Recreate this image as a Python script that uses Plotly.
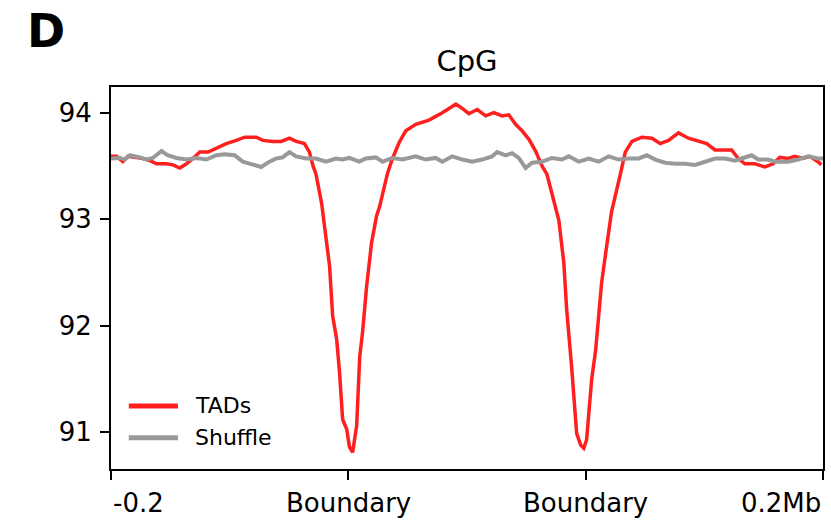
import plotly.graph_objects as go

# Positions along the window: 0 = -0.2 Mb, 100 / 200 = boundaries, 300 = +0.2 Mb
tads_x = [0, 2.4, 5.0, 7.1, 10.8, 13.4, 16.4, 19.2, 23.4, 26.1, 29.0, 31.8, 34.5, 37.4,
          40.9, 44.4, 48.6, 52.8, 56.3, 61.2, 64.0, 68.2, 71.7, 75.2, 78.0, 81.5, 83.6,
          85.0, 86.4, 88.8, 90.9, 92.1, 93.4, 95.1, 96.3, 97.6, 99.3, 100.5, 101.8, 103.5,
          104.8, 106.0, 107.7, 109.8, 111.9, 113.2, 116.5, 118.6, 121.4, 124.2, 128.4,
          134.0, 139.6, 142.4, 145.3, 148.0, 150.8, 154.3, 157.9, 161.3, 164.8, 167.6,
          170.5, 173.2, 176.1, 178.9, 181.6, 183.7, 186.0, 188.7, 190.8, 192.0, 194.1,
          196.2, 197.9, 199.2, 200.4, 202.5, 204.2, 206.7, 208.8, 210.9, 214.6, 216.7,
          219.5, 223.7, 227.9, 231.4, 234.9, 239.1, 243.3, 247.5, 251.0, 254.5, 257.3,
          261.5, 264.3, 267.1, 271.3, 275.5, 279.0, 281.8, 285.3, 288.1, 291.6, 294.4,
          297.9, 299.3]
tads_y = [93.59, 93.59, 93.54, 93.59, 93.58, 93.57, 93.55, 93.52, 93.52, 93.51, 93.48,
          93.52, 93.57, 93.63, 93.63, 93.67, 93.71, 93.74, 93.77, 93.77, 93.74, 93.73,
          93.73, 93.76, 93.73, 93.71, 93.63, 93.51, 93.42, 93.14, 92.78, 92.56, 92.09,
          91.87, 91.56, 91.12, 91.03, 90.86, 90.81, 91.06, 91.71, 91.94, 92.37, 92.78,
          93.03, 93.12, 93.43, 93.57, 93.72, 93.83, 93.89, 93.93, 94.00, 94.04, 94.08,
          94.04, 93.99, 94.03, 93.97, 94.00, 93.97, 93.98, 93.89, 93.83, 93.75, 93.64,
          93.50, 93.42, 93.21, 92.99, 92.59, 92.15, 91.61, 90.99, 90.88, 90.85, 90.93,
          91.49, 91.77, 92.40, 92.74, 93.07, 93.42, 93.63, 93.73, 93.77, 93.76, 93.71,
          93.74, 93.81, 93.76, 93.73, 93.71, 93.65, 93.65, 93.65, 93.57, 93.52, 93.52,
          93.49, 93.52, 93.58, 93.57, 93.59, 93.57, 93.59, 93.54, 93.51]

shuffle_x = [0, 3.8, 5.9, 8.0, 12.2, 15.0, 17.6, 21.3, 23.9, 27.6, 31.8, 36.0, 40.2, 44.4,
             47.9, 52.1, 55.5, 59.7, 63.3, 66.8, 69.6, 72.3, 75.2, 78.0, 82.2, 86.4, 90.6,
             94.8, 97.5, 100.4, 104.6, 107.4, 111.6, 114.4, 118.6, 122.8, 128.4, 132.6,
             136.8, 139.6, 143.8, 148.0, 152.2, 156.4, 160.6, 162.7, 166.3, 169.0, 171.8,
             174.7, 177.4, 181.6, 185.8, 190.0, 192.9, 197.1, 201.3, 205.5, 209.7, 213.9,
             218.1, 222.3, 225.8, 229.3, 233.5, 237.7, 241.9, 246.1, 250.3, 254.5, 258.7,
             262.9, 265.7, 269.9, 272.7, 276.9, 279.7, 285.3, 289.5, 293.7, 297.9, 300]
shuffle_y = [93.57, 93.575, 93.56, 93.60, 93.58, 93.56, 93.575, 93.64, 93.60, 93.575, 93.56,
             93.575, 93.56, 93.60, 93.61, 93.60, 93.54, 93.51, 93.49, 93.54, 93.57, 93.58,
             93.63, 93.59, 93.57, 93.57, 93.54, 93.57, 93.56, 93.575, 93.54, 93.57, 93.58,
             93.54, 93.575, 93.56, 93.59, 93.56, 93.575, 93.54, 93.59, 93.56, 93.54, 93.56,
             93.59, 93.63, 93.60, 93.62, 93.575, 93.48, 93.53, 93.54, 93.575, 93.56, 93.59,
             93.54, 93.57, 93.54, 93.59, 93.56, 93.57, 93.57, 93.60, 93.56, 93.53, 93.52,
             93.52, 93.51, 93.54, 93.57, 93.57, 93.55, 93.57, 93.60, 93.56, 93.56, 93.54,
             93.54, 93.56, 93.59, 93.57, 93.57]

x_tick_vals = [0, 100, 200, 300]
x_tick_text = ["-0.2", "Boundary", "Boundary", "0.2Mb"]
x_tick_anchor = ["left", "center", "center", "right"]
y_tick_vals = [91, 92, 93, 94]

series_names = ["TADs", "Shuffle"]
series_colors = ["#ff1f1f", "#999999"]

FONT = "DejaVu Sans"

fig = go.Figure()
fig.add_trace(go.Scatter(x=tads_x, y=tads_y, mode="lines", name=series_names[0],
                         line=dict(color=series_colors[0], width=3.5), showlegend=False))
fig.add_trace(go.Scatter(x=shuffle_x, y=shuffle_y, mode="lines", name=series_names[1],
                         line=dict(color=series_colors[1], width=4), showlegend=False))

# x tick labels: end labels are aligned inward to the plot edges
for v, t, a in zip(x_tick_vals, x_tick_text, x_tick_anchor):
    fig.add_annotation(x=v, y=0, xref="x", yref="paper", text=t, showarrow=False,
                       xanchor=a, yanchor="top", yshift=-17,
                       font=dict(family=FONT, size=26, color="black"))

# legend drawn in the lower-left corner of the axes
legend_rows = [0.165, 0.082]
for name, color, ly in zip(series_names, series_colors, legend_rows):
    fig.add_shape(type="line", xref="paper", yref="paper", x0=0.025, x1=0.094,
                  y0=ly, y1=ly, line=dict(color=color, width=5))
    fig.add_annotation(x=0.1148, y=ly, xref="paper", yref="paper", text=name,
                       showarrow=False, xanchor="left", yanchor="middle",
                       font=dict(family=FONT, size=22, color="black"))

# panel letter
fig.add_annotation(x=-0.1204, y=1.222, xref="paper", yref="paper", text="<b>D</b>",
                   showarrow=False, xanchor="left", yanchor="top",
                   font=dict(family=FONT, size=46, color="black"))

fig.update_layout(
    width=831, height=522,
    margin=dict(l=111, r=6, t=87, b=53),
    paper_bgcolor="white", plot_bgcolor="white",
    font=dict(family=FONT, size=26, color="black"),
    title=dict(text="CpG", x=0.5, xref="paper", xanchor="center", y=0.883,
               yanchor="middle", font=dict(family=FONT, size=29, color="black")),
    xaxis=dict(range=[0, 300], tickvals=x_tick_vals, ticktext=["", "", "", ""],
               ticks="outside", ticklen=9, tickwidth=2, tickcolor="black",
               showline=True, linecolor="black", linewidth=2, mirror=True,
               showgrid=False, zeroline=False),
    yaxis=dict(range=[90.655, 94.241], tickvals=y_tick_vals,
               ticks="outside", ticklen=9, tickwidth=2, tickcolor="black",
               showline=True, linecolor="black", linewidth=2, mirror=True,
               showgrid=False, zeroline=False, ticklabelstandoff=3,
               tickfont=dict(family=FONT, size=26, color="black")),
    showlegend=False,
)

fig.write_html("out.html")
